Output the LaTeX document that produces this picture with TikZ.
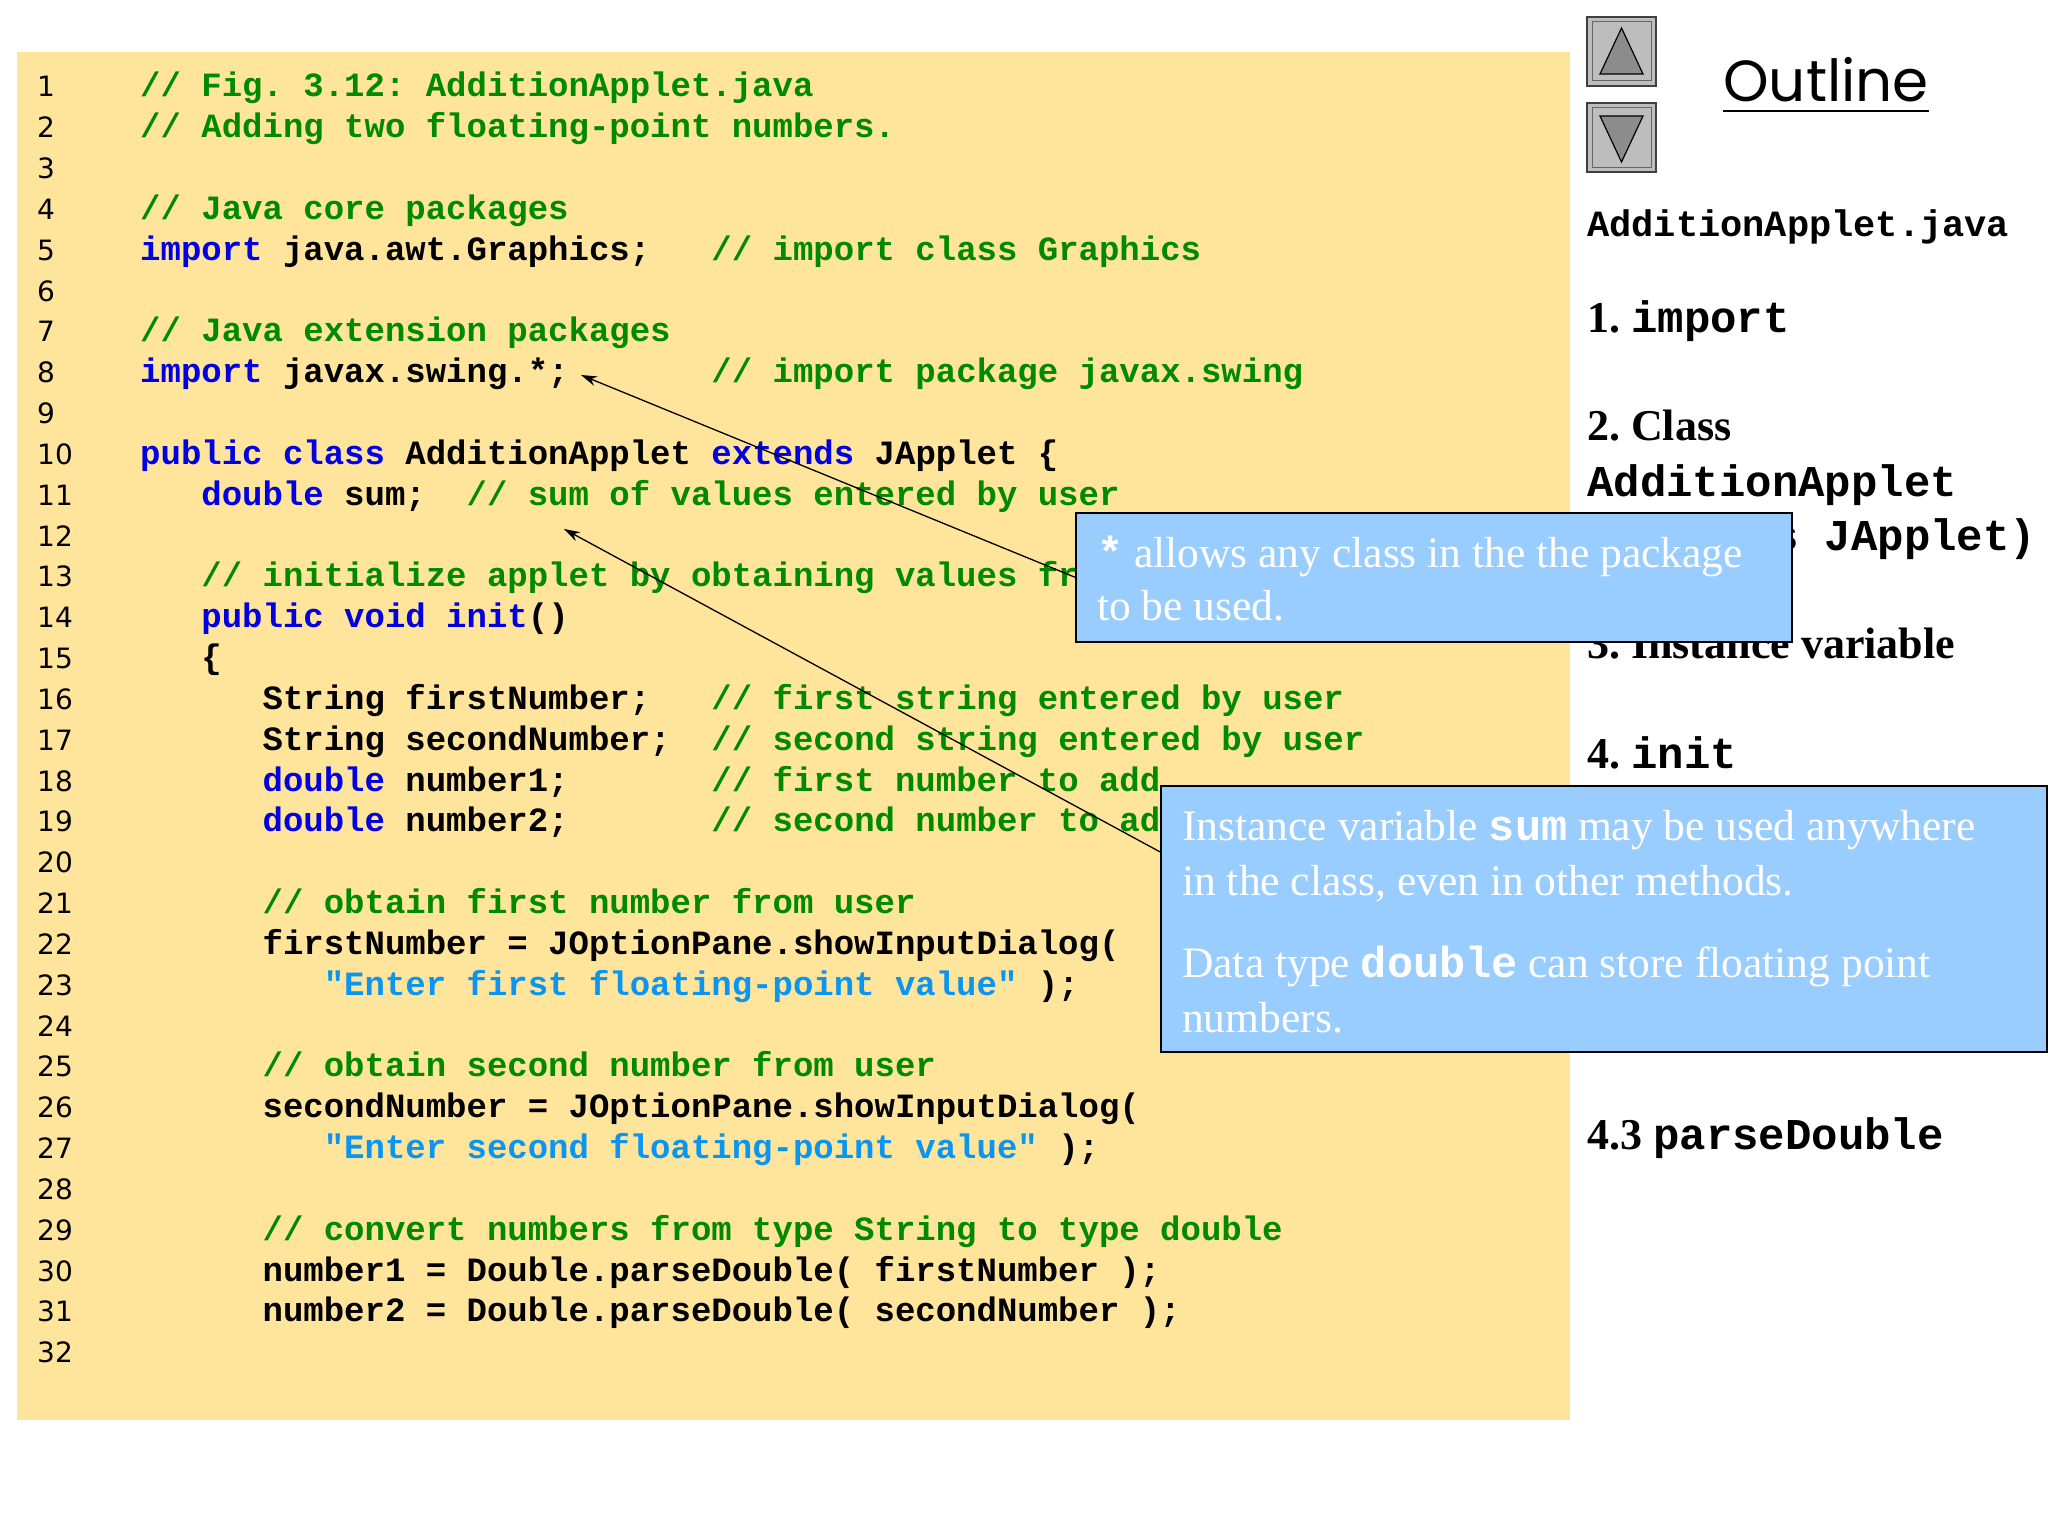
\documentclass[tikz,border=0pt]{standalone}
\usepackage{fontspec}
\setmainfont{Liberation Serif}
\newfontfamily\codefont{Liberation Mono}
\newfontfamily\numfont{DejaVu Sans}
\newfontfamily\outfont{Poppins}
\usetikzlibrary{calc,arrows.meta}
\definecolor{panel}{HTML}{FFE49C}
\definecolor{kwblue}{HTML}{0000E0}
\definecolor{cmgreen}{HTML}{008A00}
\definecolor{strblue}{HTML}{0A96F0}
\definecolor{note}{HTML}{99CCFF}
\definecolor{btn}{HTML}{BDBDBD}
\definecolor{btntri}{HTML}{8C8C8C}
\newcommand{\kw}[1]{\textcolor{kwblue}{#1}}
\newcommand{\cm}[1]{\textcolor{cmgreen}{#1}}
\newcommand{\str}[1]{\textcolor{strblue}{#1}}
\newcommand{\mb}[1]{{\codefont\bfseries #1}}
\frenchspacing
\begin{document}
\begin{tikzpicture}[x=1pt,y=-1pt,
		code/.style={anchor=base west,inner sep=0,font=\codefont\bfseries\fontsize{34}{40}\selectfont},
		lnum/.style={anchor=base west,inner sep=0,font=\numfont\fontsize{28}{32}\selectfont},
		outitem/.style={anchor=base west,inner sep=0,font=\bfseries\fontsize{44}{50}\selectfont},
		notebox/.style={draw=black,line width=1.5pt,fill=note,anchor=north west,inner sep=0},
		notetext/.style={anchor=base west,inner sep=0,text=white,font=\fontsize{43.5}{50}\selectfont},
		tip/.style={-{Stealth[length=16pt,width=10pt]},line width=1.3pt}]

	\useasboundingbox (0,0) rectangle (2048,1536);
	\fill[white] (0,0) rectangle (2048,1536);
	\fill[panel] (17,52) rectangle (1570,1420);

	% line numbers
	\foreach \n in {1,...,32}
		\node[lnum] (n\n) at (37,{97+40.83*(\n-1)}) {\n};

	% code
	\node[code] (c1) at (140,97) {\cm{// Fig. 3.12: AdditionApplet.java}};
	\node[code] (c2) at (140,{97+40.83*1}) {\cm{// Adding two floating-point numbers.}};
	\node[code] (c4) at (140,{97+40.83*3}) {\cm{// Java core packages}};
	\node[code] (c5) at (140,{97+40.83*4}) {\kw{import} java.awt.Graphics;~~~\cm{// import class Graphics}};
	\node[code] (c7) at (140,{97+40.83*6}) {\cm{// Java extension packages}};
	\node[code] (c8) at (140,{97+40.83*7}) {\kw{import} javax.swing.*;~~~~~~~\cm{// import package javax.swing}};
	\node[code] (c10) at (140,{97+40.83*9}) {\kw{public class} AdditionApplet \kw{extends} JApplet \{};
	\node[code] (c11) at ({140+3*20.4},{97+40.83*10}) {\kw{double} sum;~~\cm{// sum of values entered by user}};
	\node[code] (c13) at ({140+3*20.4},{97+40.83*12}) {\cm{// initialize applet by obtaining values from user}};
	\node[code] (c14) at ({140+3*20.4},{97+40.83*13}) {\kw{public void init}()};
	\node[code] (c15) at ({140+3*20.4},{97+40.83*14}) {\{};
	\node[code] (c16) at ({140+6*20.4},{97+40.83*15}) {String firstNumber;~~~\cm{// first string entered by user}};
	\node[code] (c17) at ({140+6*20.4},{97+40.83*16}) {String secondNumber;~~\cm{// second string entered by user}};
	\node[code] (c18) at ({140+6*20.4},{97+40.83*17}) {\kw{double} number1;~~~~~~~\cm{// first number to add}};
	\node[code] (c19) at ({140+6*20.4},{97+40.83*18}) {\kw{double} number2;~~~~~~~\cm{// second number to add}};
	\node[code] (c21) at ({140+6*20.4},{97+40.83*20}) {\cm{// obtain first number from user}};
	\node[code] (c22) at ({140+6*20.4},{97+40.83*21}) {firstNumber = JOptionPane.showInputDialog(};
	\node[code] (c23) at ({140+9*20.4},{97+40.83*22}) {\str{"Enter first floating-point value"} );};
	\node[code] (c25) at ({140+6*20.4},{97+40.83*24}) {\cm{// obtain second number from user}};
	\node[code] (c26) at ({140+6*20.4},{97+40.83*25}) {secondNumber = JOptionPane.showInputDialog(};
	\node[code] (c27) at ({140+9*20.4},{97+40.83*26}) {\str{"Enter second floating-point value"} );};
	\node[code] (c29) at ({140+6*20.4},{97+40.83*28}) {\cm{// convert numbers from type String to type double}};
	\node[code] (c30) at ({140+6*20.4},{97+40.83*29}) {number1 = Double.parseDouble( firstNumber );};
	\node[code] (c31) at ({140+6*20.4},{97+40.83*30}) {number2 = Double.parseDouble( secondNumber );};

	% navigation buttons
	\foreach \y/\d in {17/up,103/down} {
		\draw[fill=btn,line width=2pt,draw=black!75] (1587,\y) rectangle (1656,\y+69);
		\draw[line width=1pt,draw=black!60] (1592,\y+5) rectangle (1651,\y+64);
	}
	\draw[fill=btntri,line width=1.2pt] (1600,74) -- (1643,74) -- (1621.5,28) -- cycle;
	\draw[fill=btntri,line width=1.2pt] (1600,116) -- (1643,116) -- (1621.5,162) -- cycle;

	% outline
	\node[anchor=base,inner sep=0,font=\outfont\fontsize{58}{70}\selectfont] (outl) at (1826,102) {Outline};
	\draw[line width=2pt] ($(outl.base west)+(0,9)$) -- ($(outl.base east)+(0,9)$);
	\node[anchor=base west,inner sep=0,font=\codefont\bfseries\fontsize{37}{42}\selectfont] (o0) at (1587,236) {AdditionApplet.java};
	\node[outitem] (o1) at (1587,332) {1. \mb{import}};
	\node[outitem] (o2) at (1587,440) {2. Class};
	\node[outitem] (o2b) at (1587,496) {\mb{AdditionApplet}};
	\node[outitem] (o2c) at (1587,550) {\mb{(extends JApplet)}};
	\node[outitem] (o3) at (1587,658) {3. Instance variable};
	\node[outitem] (o4) at (1587,768) {4. \mb{init}};
	\node[outitem] (o43) at (1587,1149) {4.3 \mb{parseDouble}};

	% callouts
	\node[notebox,minimum width=716,minimum height=129] (box1) at (1075,512) {};
	\node[notetext] (t1a) at (1097,567) {\mb{*} allows any class in the the package};
	\node[notetext] (t1b) at (1097,620) {to be used.};
	\node[notebox,minimum width=886,minimum height=266] (box2) at (1160,785) {};
	\node[notetext] (t2a) at (1182,840) {Instance variable \mb{sum} may be used anywhere};
	\node[notetext] (t2b) at (1182,895) {in the class, even in other methods.};
	\node[notetext] (t2c) at (1182,977) {Data type \mb{double} can store floating point};
	\node[notetext] (t2d) at (1182,1032) {numbers.};

	\coordinate (star) at (581,375);
	\coordinate (sumvar) at (564,529);
	\draw[tip] (box1.west) -- (star);
	\draw[tip] ($(box2.north west)!0.25!(box2.south west)$) -- (sumvar);
\end{tikzpicture}
\end{document}
